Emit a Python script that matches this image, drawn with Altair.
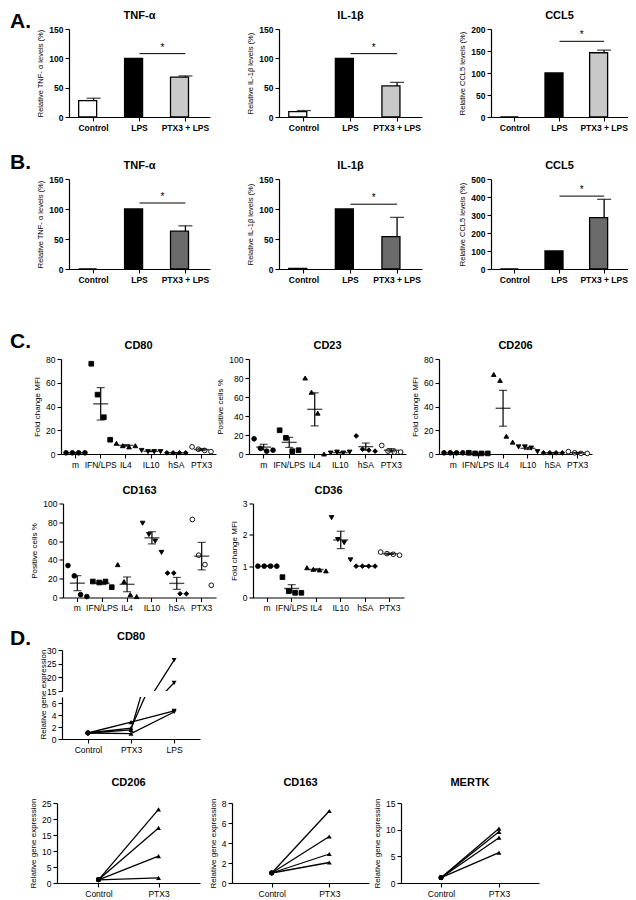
import altair as alt
import pandas as pd

FONT = "Liberation Sans"

# ---------------- Panels A / B ----------------
conditions = ["Control", "LPS", "PTX3 + LPS"]
a_tnf = [28, 100, 68]
a_tnf_err = [4, 0, 2]
a_il1b = [9, 100, 53]
a_il1b_err = [2, 0, 6]
a_ccl5 = [0, 100, 146]
a_ccl5_err = [0, 0, 6]
b_tnf = [0, 100, 63]
b_tnf_err = [0, 0, 9]
b_il1b = [1, 100, 54]
b_il1b_err = [0, 0, 32]
b_ccl5 = [0, 100, 285]
b_ccl5_err = [0, 0, 102]
sig_a = [108, 108, 172]
sig_b = [110, 108, 405]
colors_a = ["white", "black", "#c9c9c9"]
colors_b = ["white", "black", "#6b6b6b"]

# ---------------- Panel C ----------------
groups = ["m", "IFN/LPS", "IL4", "IL10", "hSA", "PTX3"]
group_shapes = ["circle", "square", "triangle-up", "triangle-down", "diamond", "circle"]
group_fills = ["black", "black", "black", "black", "black", "white"]
cd80_c = [[1, 1, 1, 1], [76, 50, 31, 12], [9, 7, 6, 7], [3, 2, 2, 2], [1, 1, 1, 1], [6, 4, 3, 2]]
cd23_c = [[16, 6, 3, 4], [25, 17, 3, 4], [80, 65, 43, 0], [1, 2, 1, 2], [19, 5, 4, 3], [9, 3, 2, 2]]
cd206_c = [[1, 1, 1, 1], [1, 0.5, 0.5, 0.5], [67, 62, 15, 10], [6, 6, 5, 2], [1, 1, 1, 1], [2, 1, 0.5, 0.5]]
cd163_c = [[34, 23, 3, 1], [17, 16, 17, 11], [35, 17, 3, 1], [79, 67, 60, 48], [26, 26, 4, 4], [83, 45, 35, 13]]
cd36_c = [[1, 1, 1, 1], [0.65, 0.2, 0.15, 0.15], [0.95, 0.9, 0.88, 0.85], [2.55, 1.85, 1.75, 1.2],
          [1, 1, 1, 1], [1.45, 1.4, 1.38, 1.35]]

# ---------------- Panel D ----------------
d_conds = ["Control", "PTX3", "LPS"]
d_shapes = ["circle", "triangle-up", "triangle-down"]
cd80_d_control = [1.0, 1.0, 1.0, 1.0]
cd80_d_ptx3 = [1.5, 1.8, 2.8, 0.9]
cd80_d_lps = [26.3, 18.0, 4.7, 4.5]
d2_conds = ["Control", "PTX3"]
d2_shapes = ["circle", "triangle-up"]
d2_control = [1.0, 1.0, 1.0, 1.0]
cd206_d_ptx3 = [23.0, 17.2, 8.4, 1.6]
cd163_d_ptx3 = [7.2, 4.65, 2.9, 2.05]
mertk_d_ptx3 = [10.2, 9.6, 8.5, 5.7]


def letter_chart(text, width, y, visible=True):
    return alt.Chart(pd.DataFrame({"t": [text]})).mark_text(
        align="left", baseline="alphabetic", font=FONT, fontSize=21, fontWeight="bold",
        opacity=1 if visible else 0, color="black"
    ).encode(x=alt.value(11), y=alt.value(y), text="t:N").properties(width=width, height=1)


def ticks(lo, hi, step):
    out = []
    v = lo
    while v <= hi + 1e-9:
        out.append(v)
        v += step
    return out


def bar_panel(title, ytitle, vals, errs, sig, ymax, ystep, colors, width, height, toff=4):
    df = pd.DataFrame({"cond": conditions, "value": vals, "err": errs, "color": colors})
    df["top"] = df["value"] + df["err"]
    pi, po = 0.35, 0.21
    x = alt.X("cond:N", scale=alt.Scale(domain=conditions, paddingInner=pi, paddingOuter=po),
              title=None, axis=alt.Axis(labelAngle=0, labelFontWeight="bold"))
    ys = alt.Scale(domain=[0, ymax], nice=False)
    yaxis = alt.Axis(values=ticks(0, ymax, ystep), labelFontWeight="bold", titleFontSize=7.5)

    def Y(f):
        return alt.Y(f, title=ytitle, scale=ys, axis=yaxis)

    bars = alt.Chart(df).mark_bar(stroke="black", strokeWidth=1.3).encode(
        x=x, y=Y("value:Q"), fill=alt.Fill("color:N", scale=None))
    e = df[df["err"] > 0]
    erule = alt.Chart(e).mark_rule(color="black", strokeWidth=1.3).encode(
        x=x, y=Y("value:Q"), y2="top:Q")
    ecap = alt.Chart(e).mark_tick(color="black", size=14, thickness=1.3).encode(x=x, y=Y("top:Q"))
    sdf = pd.DataFrame({"cond": conditions[1:], "value": [sig, sig]})
    sline = alt.Chart(sdf).mark_line(color="black", strokeWidth=1).encode(x=x, y=Y("value:Q"))
    step = width / (3 - pi + 2 * po)
    star = alt.Chart(pd.DataFrame({"cond": [conditions[1]], "value": [sig], "t": ["*"]})).mark_text(
        dx=step / 2, dy=-6, fontSize=10, font=FONT, color="black").encode(
        x=x, y=Y("value:Q"), text="t:N")
    return alt.layer(bars, erule, ecap, sline, star).properties(
        width=width, height=height, title=alt.TitleParams(title, offset=toff, frame="group"))


def dot_panel(title, ytitle, vals, ymax, ystep, width, height, toff=4):
    rows = []
    for g, shp, fl, vs in zip(groups, group_shapes, group_fills, vals):
        for i, v in enumerate(vs):
            rows.append({"group": g, "rep": i, "value": v, "shape": shp, "fill": fl})
    df = pd.DataFrame(rows)
    x = alt.X("group:N", scale=alt.Scale(domain=groups, paddingInner=0.25, paddingOuter=0.2),
              title=None, axis=alt.Axis(labelAngle=0))
    ys = alt.Scale(domain=[0, ymax], nice=False)
    yaxis = alt.Axis(values=ticks(0, ymax, ystep))

    def Y(f):
        return alt.Y(f, title=ytitle, scale=ys, axis=yaxis)

    pts = alt.Chart(df).mark_point(filled=True, size=22, stroke="black", strokeWidth=0.9, opacity=1).encode(
        x=x, xOffset=alt.XOffset("rep:N", scale=alt.Scale(paddingInner=0, paddingOuter=0)),
        y=Y("value:Q"), shape=alt.Shape("shape:N", scale=None), fill=alt.Fill("fill:N", scale=None))
    agg = alt.Chart(df).transform_aggregate(
        mean="mean(value)", sem="stderr(value)", groupby=["group"]
    ).transform_calculate(lo="datum.mean - datum.sem", hi="datum.mean + datum.sem")
    mline = agg.mark_tick(color="black", size=15, thickness=1.4).encode(x=x, y=Y("mean:Q"))
    srule = agg.mark_rule(color="black", strokeWidth=1.2).encode(x=x, y=Y("lo:Q"), y2="hi:Q")
    caps = agg.transform_fold(["lo", "hi"], as_=["k", "v"]).mark_tick(
        color="black", size=8, thickness=1.2).encode(x=x, y=Y("v:Q"))
    return alt.layer(pts, srule, caps, mline).properties(
        width=width, height=height, title=alt.TitleParams(title, offset=toff, frame="group"))


def pair_panel(title, conds, shapes, series, ymin, ymax, yvals, width, height, padding,
               show_x=True, ytitle="Relative gene expression", title_y=None, clip=False, toff=4):
    rows = []
    for ci, (c, shp) in enumerate(zip(conds, shapes)):
        for s, v in enumerate(series[ci]):
            rows.append({"subject": s, "cond": c, "ci": ci, "value": v, "shape": shp})
    df = pd.DataFrame(rows)
    x = alt.X("cond:N", scale=alt.Scale(domain=conds, type="point", padding=padding), title=None,
              axis=alt.Axis(labelAngle=0) if show_x else None)
    axis_kw = dict(values=yvals)
    if title_y is not None:
        axis_kw["titleY"] = title_y
    y = alt.Y("value:Q", title=ytitle, scale=alt.Scale(domain=[ymin, ymax], nice=False),
              axis=alt.Axis(**axis_kw))
    lines = alt.Chart(df).mark_line(color="black", strokeWidth=1.3, clip=clip).encode(
        x=x, y=y, detail="subject:N", order="ci:Q")
    pts = alt.Chart(df).mark_point(filled=True, color="black", size=24, opacity=1, clip=clip).encode(
        x=x, y=y, shape=alt.Shape("shape:N", scale=None))
    props = dict(width=width, height=height)
    if title:
        props["title"] = alt.TitleParams(title, offset=toff, frame="group")
    return alt.layer(lines, pts).properties(**props)


# ---------------- Rows ----------------
HA = 88
rowA = alt.hconcat(
    letter_chart("A.", 1, -1),
    bar_panel("TNF-α", "Relative TNF- α levels (%)", a_tnf, a_tnf_err, sig_a[0], 150, 50, colors_a, 141, HA),
    bar_panel("IL-1β", "Relative IL-1β levels (%)", a_il1b, a_il1b_err, sig_a[1], 150, 50, colors_a, 143, HA),
    bar_panel("CCL5", "Relative CCL5 levels (%)", a_ccl5, a_ccl5_err, sig_a[2], 200, 50, colors_a, 137, HA),
    spacing=69, bounds="flush")

HB = 90
rowB = alt.hconcat(
    letter_chart("B.", 1, -10),
    bar_panel("TNF-α", "Relative TNF- α levels (%)", b_tnf, b_tnf_err, sig_b[0], 150, 50, colors_b, 141, HB),
    bar_panel("IL-1β", "Relative IL-1β levels (%)", b_il1b, b_il1b_err, sig_b[1], 150, 50, colors_b, 143, HB),
    bar_panel("CCL5", "Relative CCL5 levels (%)", b_ccl5, b_ccl5_err, sig_b[2], 500, 100, colors_b, 137, HB),
    spacing=69, bounds="flush")

HC = 95
rowC = alt.hconcat(
    letter_chart("C.", 29, -11),
    dot_panel("CD80", "Fold change MFI", cd80_c, 80, 20, 155, HC),
    dot_panel("CD23", "Positive cells %", cd23_c, 100, 20, 157, HC),
    dot_panel("CD206", "Fold change MFI", cd206_c, 80, 20, 153, HC),
    spacing=33, bounds="flush")

HC2 = 94
rowC2 = alt.hconcat(
    letter_chart("C.", 27, 0, visible=False),
    dot_panel("CD163", "Positive cells %", cd163_c, 100, 20, 153, HC2),
    dot_panel("CD36", "Fold change MFI", cd36_c, 3, 1, 151, HC2),
    spacing=37, bounds="flush")

d_series = [cd80_d_control, cd80_d_ptx3, cd80_d_lps]
d_upper = pair_panel("CD80", d_conds, d_shapes, d_series, 15, 30, [15, 20, 25, 30], 138, 41, 0.6,
                     show_x=False, ytitle=None, clip=True)
d_lower = pair_panel(None, d_conds, d_shapes, d_series, 0, 7, [0, 2, 4, 6], 138, 42, 0.6,
                     title_y=-3, clip=True)
rowD = alt.hconcat(
    letter_chart("D.", 1, -5),
    alt.vconcat(d_upper, d_lower, spacing=6, bounds="flush"),
    spacing=62, bounds="flush")

HD2 = 80
rowD2 = alt.hconcat(
    letter_chart("D.", 26, 0, visible=False),
    pair_panel("CD206", d2_conds, d2_shapes, [d2_control, cd206_d_ptx3], 0, 25, [0, 5, 10, 15, 20, 25],
               143, HD2, 0.69, toff=10),
    pair_panel("CD163", d2_conds, d2_shapes, [d2_control, cd163_d_ptx3], 0, 8, [0, 2, 4, 6, 8],
               137, HD2, 0.69, toff=10),
    pair_panel("MERTK", d2_conds, d2_shapes, [d2_control, mertk_d_ptx3], 0, 15, [0, 5, 10, 15],
               138, HD2, 0.69, toff=10),
    spacing=32, bounds="flush")

top = alt.vconcat(rowA, rowB, spacing=20)
mid = alt.vconcat(rowC, rowC2, rowD, spacing=15.5)
lower = alt.vconcat(mid, rowD2, spacing=23)
chart = alt.vconcat(top, lower, spacing=47).properties(
    padding={"left": -9, "top": 2, "right": 0, "bottom": 0}
).configure_view(
    stroke=None
).configure_axis(
    grid=False, domainColor="black", domainWidth=1.2, tickColor="black", tickWidth=1.1, tickSize=4,
    labelColor="black", titleColor="black", labelFont=FONT, titleFont=FONT, labelFontSize=8.5,
    titleFontSize=8, titleFontWeight="normal", labelPadding=2, titlePadding=4
).configure_title(
    font=FONT, fontSize=11, fontWeight="bold", anchor="middle", color="black"
)

chart.save("out.html", embed_options={"renderer": "svg", "actions": False})
